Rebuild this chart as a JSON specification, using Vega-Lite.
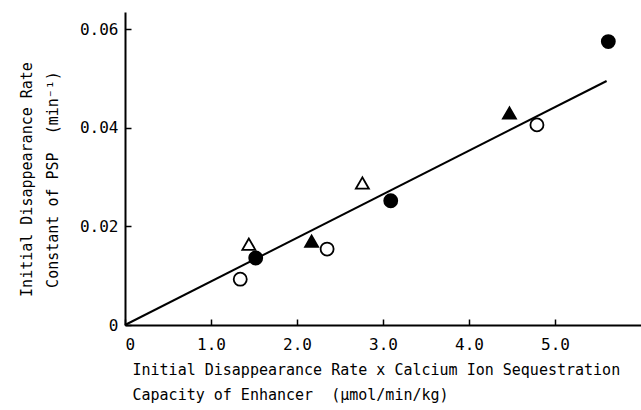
{
  "$schema": "https://vega.github.io/schema/vega-lite/v6.json",
  "width": 516,
  "height": 313,
  "autosize": {"type": "none"},
  "padding": {"left": 125, "top": 12, "right": 0, "bottom": 85},
  "background": "white",
  "config": {
    "view": {"stroke": null},
    "axis": {
      "grid": false,
      "domainColor": "black",
      "domainWidth": 2,
      "tickColor": "black",
      "tickWidth": 1.5,
      "tickSize": -6,
      "labelFont": "DejaVu Sans Mono",
      "labelFontSize": 16,
      "labelColor": "black",
      "titleFont": "DejaVu Sans Mono",
      "titleFontSize": 15,
      "titleFontWeight": "normal",
      "titleColor": "black"
    }
  },
  "datasets": {
    "points": [
      {"x": 1.34, "y": 0.0093, "group": "open circle"},
      {"x": 1.52, "y": 0.0136, "group": "filled circle"},
      {"x": 1.44, "y": 0.0164, "group": "open triangle"},
      {"x": 2.17, "y": 0.0170, "group": "filled triangle"},
      {"x": 2.35, "y": 0.0154, "group": "open circle"},
      {"x": 2.76, "y": 0.0288, "group": "open triangle"},
      {"x": 3.09, "y": 0.0252, "group": "filled circle"},
      {"x": 4.47, "y": 0.0430, "group": "filled triangle"},
      {"x": 4.79, "y": 0.0406, "group": "open circle"},
      {"x": 5.62, "y": 0.0575, "group": "filled circle"}
    ],
    "fit": [
      {"x": 0, "y": 0},
      {"x": 5.6, "y": 0.0495}
    ]
  },
  "layer": [
    {
      "data": {"name": "fit"},
      "mark": {"type": "line", "color": "black", "strokeWidth": 2},
      "encoding": {
        "x": {
          "field": "x", "type": "quantitative",
          "scale": {"domain": [0, 6.0], "nice": false},
          "axis": {
            "values": [0, 1, 2, 3, 4, 5],
            "labelExpr": "datum.value == 0 ? '0' : format(datum.value, '.1f')",
            "labelPadding": 17,
            "title": ["Initial Disappearance Rate x Calcium Ion Sequestration", "Capacity of Enhancer\u00a0\u00a0(μmol/min/kg)"],
            "titleAnchor": "start",
            "titleAlign": "left",
            "titleBaseline": "top",
            "titleX": 7,
            "titleY": 37,
            "titleLineHeight": 25
          }
        },
        "y": {
          "field": "y", "type": "quantitative",
          "scale": {"domain": [0, 0.0635], "nice": false},
          "axis": {
            "values": [0, 0.02, 0.04, 0.06],
            "labelExpr": "datum.value == 0 ? '0' : format(datum.value, '.2f')",
            "labelPadding": 13,
            "title": ["Initial Disappearance Rate", "Constant of PSP\u00a0\u00a0(min⁻¹)"],
            "titleLineHeight": 26,
            "titlePadding": 19,
            "titleY": 167
          }
        }
      }
    },
    {
      "data": {"name": "points"},
      "mark": {"type": "point", "strokeWidth": 1.8, "opacity": 1},
      "encoding": {
        "x": {"field": "x", "type": "quantitative"},
        "y": {"field": "y", "type": "quantitative"},
        "shape": {
          "field": "group", "type": "nominal",
          "scale": {
            "domain": ["filled circle", "open circle", "filled triangle", "open triangle"],
            "range": ["circle", "circle", "triangle-up", "triangle-up"]
          },
          "legend": null
        },
        "fill": {
          "field": "group", "type": "nominal",
          "scale": {
            "domain": ["filled circle", "open circle", "filled triangle", "open triangle"],
            "range": ["black", "white", "black", "white"]
          },
          "legend": null
        },
        "stroke": {"value": "black"},
        "size": {"value": 170}
      }
    }
  ]
}
